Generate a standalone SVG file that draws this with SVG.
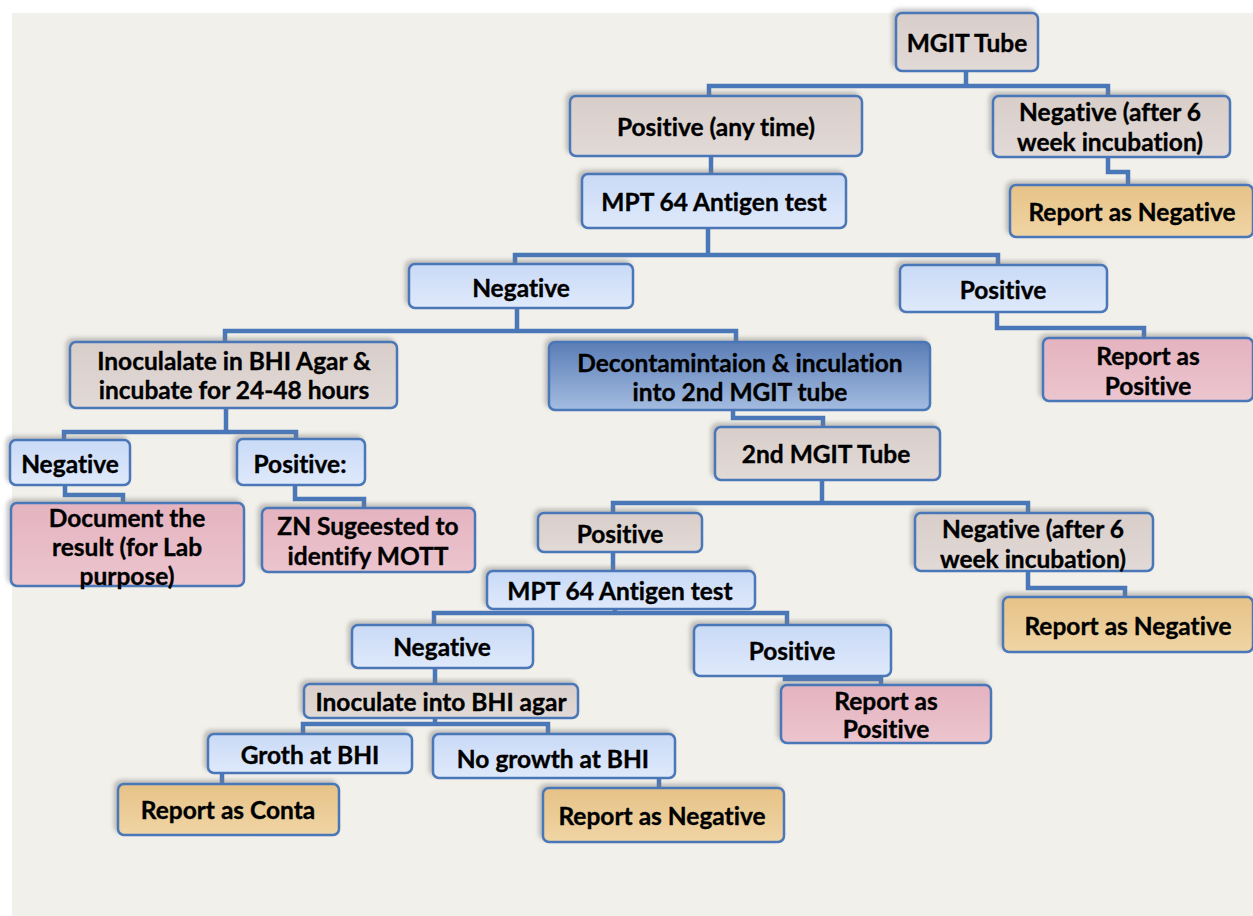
<svg xmlns="http://www.w3.org/2000/svg" width="1253" height="916" viewBox="0 0 1253 916">
<style>
.box{stroke:#4a77b8;stroke-width:2.5;filter:url(#sh)}
.taupe{fill:url(#gT)}
.blue{fill:url(#gB)}
.pink{fill:url(#gP)}
.gold{fill:url(#gG)}
.dark{fill:url(#gD)}
.conn{fill:none;stroke:#4a77b8;stroke-width:4.5;stroke-linejoin:miter}
text{font-family:Lato,"Liberation Sans",sans-serif;font-weight:bold;font-size:24.5px;fill:#000;stroke:#000;stroke-width:0.35;text-anchor:middle;dominant-baseline:central;font-variant-ligatures:none;font-feature-settings:"liga" 0,"dlig" 0}
</style>
<defs>
<filter id="sh" x="-10%" y="-20%" width="120%" height="140%">
<feDropShadow dx="-3" dy="-3" stdDeviation="2" flood-color="#7a7a7a" flood-opacity="0.45"/>
</filter>
<linearGradient id="gT" x1="0" y1="0" x2="0" y2="1"><stop offset="0" stop-color="#d8cdc9"/><stop offset="1" stop-color="#e2dad7"/></linearGradient>
<linearGradient id="gB" x1="0" y1="0" x2="0" y2="1"><stop offset="0" stop-color="#c9daf6"/><stop offset="1" stop-color="#dfe9fb"/></linearGradient>
<linearGradient id="gP" x1="0" y1="0" x2="0" y2="1"><stop offset="0" stop-color="#e4b3c0"/><stop offset="1" stop-color="#ecc5ce"/></linearGradient>
<linearGradient id="gG" x1="0" y1="0" x2="0" y2="1"><stop offset="0" stop-color="#e6c287"/><stop offset="1" stop-color="#f0d5a5"/></linearGradient>
<linearGradient id="gD" x1="0" y1="0" x2="0" y2="1"><stop offset="0" stop-color="#5a7db6"/><stop offset="1" stop-color="#a4bce0"/></linearGradient>
</defs>
<rect x="0" y="0" width="1253" height="916" fill="#ffffff"/>
<rect x="12" y="13" width="1241" height="903" fill="#f2f0ea"/>

<g id="connectors">
<path class="conn" d="M966,71 V86 M709,96 V86 H1108 V96"/>
<path class="conn" d="M711,156 V174"/>
<path class="conn" d="M1108,157 V172 H1128 V185"/>
<path class="conn" d="M708,228 V255 M515,264 V255 H998 V265"/>
<path class="conn" d="M997,312 V328 H1144 V338"/>
<path class="conn" d="M517,308 V331 M225,342 V331 H736 V342"/>
<path class="conn" d="M226,408 V432 M64,440 V432 H296 V439"/>
<path class="conn" d="M65,485 V495 H123 V503"/>
<path class="conn" d="M295,485 V499 H364 V508"/>
<path class="conn" d="M733,410 V418 H823 V427"/>
<path class="conn" d="M822,480 V503 M613,513 V503 H1028 V513"/>
<path class="conn" d="M613,552 V571"/>
<path class="conn" d="M615,609 V613 M434,625 V613 H787 V625"/>
<path class="conn" d="M785,676 V679 H881 V685"/>
<path class="conn" d="M1028,571 V588 H1125 V597"/>
<path class="conn" d="M435,668 V684"/>
<path class="conn" d="M435,718 V724 M303,734 V724 H548 V734"/>
<path class="conn" d="M222,773 V784"/>
<path class="conn" d="M659,778 V788"/>
</g>

<g id="n_mgit"><rect class="box taupe" x="896" y="13" width="142" height="58" rx="6"/><text x="967" y="42">MGIT Tube</text></g>
<g id="n_pos_any"><rect class="box taupe" x="570" y="96" width="292" height="60" rx="6"/><text x="716" y="126">Positive (any time)</text></g>
<g id="n_neg6"><rect class="box taupe" x="993" y="96" width="237" height="61" rx="6"/><text x="1110" y="111">Negative (after 6</text><text x="1110" y="141">week incubation)</text></g>
<g id="n_repneg1"><rect class="box gold" x="1010" y="185" width="243" height="52" rx="6"/><text x="1132" y="211">Report as Negative</text></g>
<g id="n_mpt1"><rect class="box blue" x="582" y="174" width="264" height="54" rx="6"/><text x="714" y="201">MPT 64 Antigen test</text></g>
<g id="n_neg1"><rect class="box blue" x="409" y="264" width="224" height="44" rx="6"/><text x="521" y="287">Negative</text></g>
<g id="n_pos1"><rect class="box blue" x="900" y="265" width="207" height="47" rx="6"/><text x="1003" y="289">Positive</text></g>
<g id="n_reppos1"><rect class="box pink" x="1043" y="338" width="210" height="63" rx="6"/><text x="1148" y="355">Report as</text><text x="1148" y="385">Positive</text></g>
<g id="n_inoc1"><rect class="box taupe" x="70" y="342" width="327" height="66" rx="6"/><text x="234" y="360">Inoculalate in BHI Agar &amp;</text><text x="234" y="389">incubate for 24-48 hours</text></g>
<g id="n_decon"><rect class="box dark" x="549" y="342" width="381" height="68" rx="6"/><text x="740" y="362">Decontamintaion &amp; inculation</text><text x="740" y="391">into 2nd MGIT tube</text></g>
<g id="n_neg2"><rect class="box blue" x="10" y="440" width="120" height="45" rx="6"/><text x="70" y="463">Negative</text></g>
<g id="n_pos2"><rect class="box blue" x="237" y="439" width="128" height="46" rx="6"/><text x="300" y="463">Positive:</text></g>
<g id="n_doc"><rect class="box pink" x="11" y="503" width="233" height="83" rx="6"/><text x="127" y="517">Document the</text><text x="127" y="546">result (for Lab</text><text x="127" y="575">purpose)</text></g>
<g id="n_zn"><rect class="box pink" x="262" y="508" width="213" height="64" rx="6"/><text x="368" y="525">ZN Sugeested to</text><text x="368" y="555">identify MOTT</text></g>
<g id="n_mgit2"><rect class="box taupe" x="715" y="427" width="225" height="53" rx="6"/><text x="826" y="453">2nd MGIT Tube</text></g>
<g id="n_pos3"><rect class="box taupe" x="538" y="513" width="164" height="39" rx="6"/><text x="620" y="533">Positive</text></g>
<g id="n_neg6b"><rect class="box taupe" x="915" y="513" width="238" height="58" rx="6"/><text x="1033" y="528">Negative (after 6</text><text x="1033" y="558">week incubation)</text></g>
<g id="n_repneg2"><rect class="box gold" x="1003" y="597" width="250" height="55" rx="6"/><text x="1128" y="625">Report as Negative</text></g>
<g id="n_mpt2"><rect class="box blue" x="487" y="571" width="268" height="38" rx="6"/><text x="620" y="590">MPT 64 Antigen test</text></g>
<g id="n_neg3"><rect class="box blue" x="352" y="625" width="181" height="43" rx="6"/><text x="442" y="646">Negative</text></g>
<g id="n_pos4"><rect class="box blue" x="694" y="625" width="197" height="51" rx="6"/><text x="792" y="650">Positive</text></g>
<g id="n_reppos2"><rect class="box pink" x="781" y="685" width="210" height="58" rx="6"/><text x="886" y="700">Report as</text><text x="886" y="728">Positive</text></g>
<g id="n_inoc2"><rect class="box taupe" x="304" y="684" width="274" height="34" rx="6"/><text x="441" y="701">Inoculate into BHI agar</text></g>
<g id="n_groth"><rect class="box blue" x="208" y="734" width="204" height="39" rx="6"/><text x="310" y="754">Groth at BHI</text></g>
<g id="n_nogrowth"><rect class="box blue" x="433" y="734" width="242" height="44" rx="6"/><text x="553" y="758">No growth at BHI</text></g>
<g id="n_conta"><rect class="box gold" x="118" y="784" width="221" height="51" rx="6"/><text x="228" y="809">Report as Conta</text></g>
<g id="n_repneg3"><rect class="box gold" x="543" y="788" width="241" height="54" rx="6"/><text x="662" y="815">Report as Negative</text></g>
</svg>
